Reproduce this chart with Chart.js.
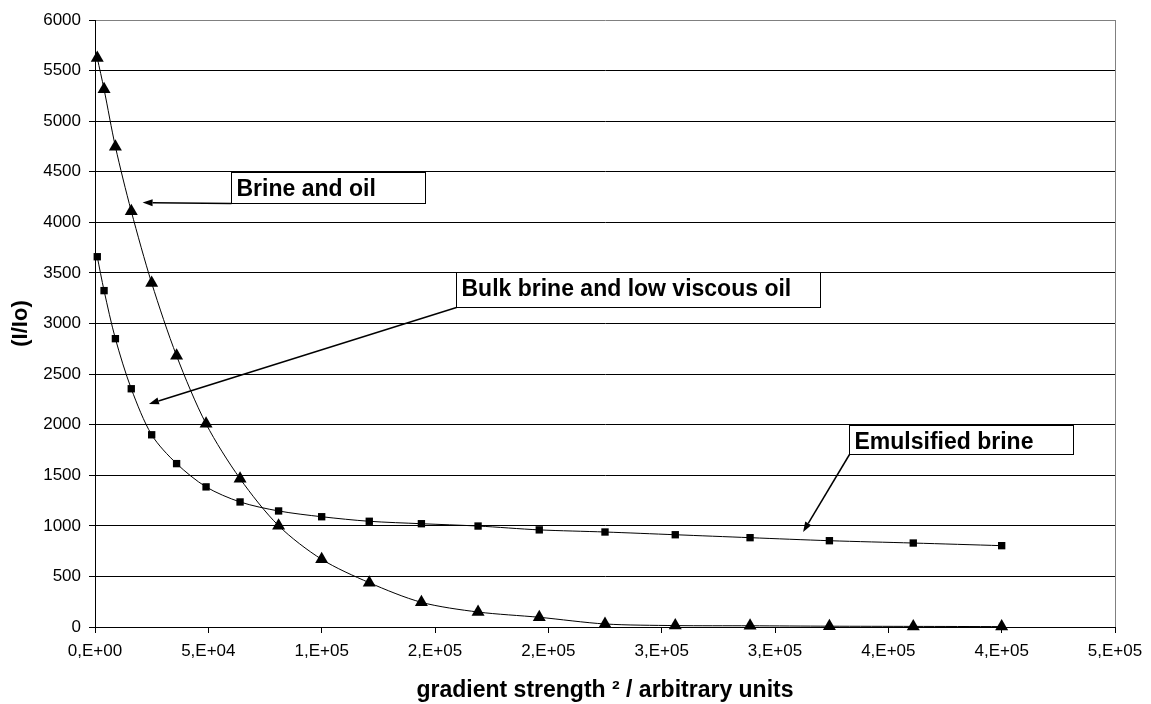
<!DOCTYPE html>
<html>
<head>
<meta charset="utf-8">
<script src="https://cdn.jsdelivr.net/npm/chart.js@4"></script>
<style>
  html, body { margin: 0; padding: 0; background: #fff; }
  #wrap { width: 1151px; height: 704px; }
</style>
</head>
<body>
<div id="wrap"><canvas id="chart" width="1151" height="704"></canvas></div>
<script>
// gradient strength^2 (x)
const gradSq = [1000, 4000, 9000, 16000, 25000, 36000, 49000, 64000, 81000, 100000,
                121000, 144000, 169000, 196000, 225000, 256000, 289000, 324000, 361000, 400000];
// triangles
const brineOil = [5625, 5315, 4748, 4110, 3400, 2680, 2008, 1466, 1001, 669,
                  438, 244, 148, 96, 30, 14, 12, 8, 6, 4];
// squares
const emulsified = [3660, 3325, 2850, 2355, 1900, 1615, 1385, 1236, 1147, 1090,
                    1045, 1021, 998, 960, 939, 912, 883, 853, 830, 804];
const xTickLabels = ['0,E+00', '5,E+04', '1,E+05', '2,E+05', '2,E+05',
                     '3,E+05', '3,E+05', '4,E+05', '4,E+05', '5,E+05'];

// callouts, placed in data units
const notes = [
    { text: 'Brine and oil', x1: 60000, y1: 4495, x2: 145500, y2: 4195, tipX: 21000, tipY: 4195 },
    { text: 'Bulk brine and low viscous oil', x1: 159300, y1: 3505, x2: 319900, y2: 3165, tipX: 23800, tipY: 2205 },
    { text: 'Emulsified brine', x1: 332800, y1: 1997, x2: 431300, y2: 1707, tipX: 312400, tipY: 940 }
];

const FONT = '"Liberation Sans", Arial, sans-serif';

function toPoints(xs, ys) {
    return xs.map((x, i) => ({ x: x, y: ys[i] }));
}

const calloutPlugin = {
    id: 'callouts',
    beforeDatasetsDraw(chart) {
        const { ctx, chartArea } = chart;
        ctx.save();
        ctx.strokeStyle = '#808080';
        ctx.lineWidth = 1;
        ctx.beginPath();
        ctx.moveTo(chartArea.right + 0.5, chartArea.top);
        ctx.lineTo(chartArea.right + 0.5, chartArea.bottom);
        ctx.stroke();
        ctx.restore();
    },
    afterDatasetsDraw(chart) {
        const { ctx } = chart;
        const sx = chart.scales.x, sy = chart.scales.y;
        ctx.save();
        notes.forEach(n => {
            const left = Math.round(sx.getPixelForValue(n.x1)) + 0.5;
            const right = Math.round(sx.getPixelForValue(n.x2)) + 0.5;
            const top = Math.round(sy.getPixelForValue(n.y1)) + 0.5;
            const bottom = Math.round(sy.getPixelForValue(n.y2)) + 0.5;
            const tx = sx.getPixelForValue(n.tipX);
            const ty = sy.getPixelForValue(n.tipY);

            // arrow from the box's lower-left corner
            ctx.strokeStyle = '#000';
            ctx.fillStyle = '#000';
            ctx.lineWidth = 1.5;
            const ang = Math.atan2(ty - bottom, tx - left);
            const len = 10, hw = 3.5;
            const bx = tx - Math.cos(ang) * len, by = ty - Math.sin(ang) * len;
            ctx.beginPath();
            ctx.moveTo(left, bottom);
            ctx.lineTo(bx, by);
            ctx.stroke();
            ctx.beginPath();
            ctx.moveTo(tx, ty);
            ctx.lineTo(bx - Math.sin(ang) * hw, by + Math.cos(ang) * hw);
            ctx.lineTo(bx + Math.sin(ang) * hw, by - Math.cos(ang) * hw);
            ctx.closePath();
            ctx.fill();

            ctx.fillStyle = '#fff';
            ctx.fillRect(left, top, right - left, bottom - top);
            ctx.lineWidth = 1;
            ctx.strokeRect(left, top, right - left, bottom - top);

            ctx.fillStyle = '#000';
            ctx.font = 'bold 23px ' + FONT;
            ctx.textAlign = 'left';
            ctx.textBaseline = 'alphabetic';
            ctx.fillText(n.text, left + 5, top + 23);
        });
        ctx.restore();
    }
};

new Chart(document.getElementById('chart').getContext('2d'), {
    type: 'line',
    data: {
        datasets: [
            {
                label: 'Brine and oil',
                data: toPoints(gradSq, brineOil),
                borderColor: '#000',
                borderWidth: 1,
                backgroundColor: '#000',
                pointStyle: 'triangle',
                pointRadius: 7.5,
                pointBorderWidth: 0,
                tension: 0.3,
                clip: false
            },
            {
                label: 'Emulsified brine',
                data: toPoints(gradSq, emulsified),
                borderColor: '#000',
                borderWidth: 1,
                backgroundColor: '#000',
                pointStyle: 'rect',
                pointRadius: 5.2,
                pointBorderWidth: 0,
                tension: 0.3,
                clip: false
            }
        ]
    },
    options: {
        responsive: false,
        animation: false,
        layout: { padding: { left: 0, top: 20, right: 36, bottom: 0 } },
        plugins: {
            legend: { display: false },
            tooltip: { enabled: false }
        },
        scales: {
            x: {
                type: 'linear',
                min: 0,
                max: 450000,
                afterFit: s => { s.height = 77; },
                ticks: {
                    stepSize: 50000,
                    autoSkip: false,
                    maxRotation: 0,
                    padding: 8,
                    color: '#000',
                    font: { family: FONT, size: 17 },
                    callback: (v, i) => xTickLabels[i]
                },
                grid: { drawOnChartArea: false, drawTicks: true, tickLength: 6, color: '#000' },
                border: { color: '#000', width: 1 },
                title: {
                    display: true,
                    text: 'gradient strength ² / arbitrary units',
                    color: '#000',
                    font: { family: FONT, size: 23, weight: 'bold' },
                    padding: { top: 0, bottom: 0 }
                }
            },
            y: {
                min: 0,
                max: 6000,
                afterFit: s => { s.width = 95; },
                ticks: {
                    stepSize: 500,
                    padding: 8,
                    color: '#000',
                    font: { family: FONT, size: 17 },
                    callback: v => String(v)
                },
                grid: {
                    color: c => (c.tick && c.tick.value === 6000 ? '#808080' : '#000'),
                    tickColor: '#000',
                    tickLength: 6
                },
                border: { color: '#000', width: 1 },
                title: {
                    display: true,
                    text: '(I/Io)',
                    color: '#000',
                    font: { family: FONT, size: 22, weight: 'bold' },
                    padding: { top: 8, bottom: 0 }
                }
            }
        }
    },
    plugins: [calloutPlugin]
});
</script>
</body>
</html>
